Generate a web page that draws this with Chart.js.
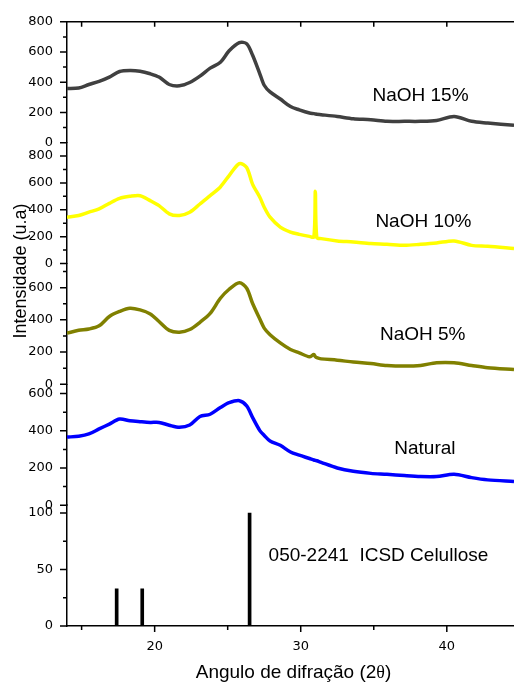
<!DOCTYPE html>
<html>
<head>
<meta charset="utf-8">
<script src="https://cdn.jsdelivr.net/npm/chart.js@4.4.1/dist/chart.umd.min.js"></script>
<style>
  html, body { margin: 0; padding: 0; background: #fff; }
  canvas { display: block; }
</style>
</head>
<body>
<canvas id="xrd" width="514" height="687"></canvas>
<script>
const angles = [14.0, 14.8, 15.5, 16.2, 16.9, 17.6, 18.3, 19.0, 19.7, 20.3, 21.0, 21.7, 22.4, 23.1, 23.8,
  24.5, 25.1, 25.8, 26.3, 26.7, 27.2, 27.5, 27.9, 28.6, 29.3, 29.9, 30.6, 30.9, 31.0, 31.1, 31.4,
  32.5, 33.6, 34.8, 35.9, 37.1, 38.2, 39.3, 40.5, 41.7, 42.8, 44.6];

const naoh15 = [358, 362, 385, 406, 434, 471, 478, 473, 456, 434, 385, 376, 398, 440, 493,
  532, 608, 662, 655, 580, 456, 380, 336, 289, 239, 217, 196, 192, 190, 188, 185,
  173, 158, 152, 141, 141, 141, 147, 173, 141, 130, 115];

const naoh10 = [345, 357, 382, 406, 448, 485, 500, 505, 468, 431, 370, 358, 382, 443, 505,
  570, 655, 744, 715, 591, 493, 419, 345, 271, 234, 217, 202, 198, 537, 194, 185,
  168, 160, 148, 143, 135, 143, 153, 168, 135, 128, 111];

const naoh5 = [318, 335, 343, 363, 421, 452, 472, 462, 437, 390, 335, 323, 340, 385, 440,
  534, 590, 630, 596, 503, 405, 349, 308, 257, 216, 195, 171, 185, 172, 165, 158,
  150, 138, 129, 117, 113, 117, 134, 134, 117, 103, 92];

const natural = [366, 371, 383, 410, 436, 463, 454, 449, 445, 445, 430, 419, 431, 477, 489,
  525, 551, 562, 534, 472, 401, 375, 345, 322, 286, 269, 251, 243, 241, 239, 230,
  200, 182, 171, 166, 159, 154, 154, 166, 148, 136, 127];

// reference card 050-2241 (ICSD celulose)
const refAngles = [17.4, 19.15, 26.5];
const refIntensity = [33, 33, 100];

const sampleNames = ["NaOH 15%", "NaOH 10%", "NaOH 5%", "Natural"];
const refName = "050-2241  ICSD Celullose";

const FONT = "'Liberation Sans', Arial, sans-serif";
const TICK_FONT = { family: "'DejaVu Sans', sans-serif", size: 13 };

function pts(values) {
  return angles.map((a, i) => ({ x: a, y: values[i] }));
}

// one stacked y axis per pattern, top to bottom
const panels = [
  { id: "y15", max: 800, major: 200, minor: 100 },
  { id: "y10", max: 900, major: 200, minor: 100 },
  { id: "y5", max: 750, major: 200, minor: 100 },
  { id: "yNat", max: 650, major: 200, minor: 100 },
  { id: "yRef", max: 107, major: 50, minor: 25 }
];

function yAxis(p) {
  return {
    type: "linear",
    position: "left",
    stack: "xrd",
    stackWeight: 1,
    min: 0,
    max: p.max,
    grid: { display: false, drawTicks: false },
    border: { display: true, color: "#000", width: 1.5 },
    ticks: {
      stepSize: p.major,
      includeBounds: false,
      autoSkip: false,
      color: "#000",
      font: TICK_FONT,
      padding: 14
    },
    afterFit(scale) { scale.width = 67; }
  };
}

// stacked boxes are laid out from the last added axis downwards
const scales = {
  x: {
    type: "linear",
    min: 14,
    max: 44.6,
    offset: false,
    grid: { display: false, drawTicks: false, offset: false },
    border: { display: true, color: "#000", width: 1.5 },
    ticks: {
      stepSize: 5,
      includeBounds: false,
      autoSkip: false,
      color: "#000",
      font: TICK_FONT,
      padding: 13,
      callback: v => (v % 10 === 0 ? v : "")
    },
    afterFit(scale) { scale.height = 61; }
  }
};
panels.slice().reverse().forEach(p => { scales[p.id] = yAxis(p); });

const lineStyle = {
  type: "line",
  pointRadius: 0,
  borderWidth: 3.5,
  fill: false,
  tension: 0.3,
  xAxisID: "x"
};

const labelSpots = [
  { text: sampleNames[0], axis: "y15", x: 38.2, y: 310, align: "center" },
  { text: sampleNames[1], axis: "y10", x: 38.4, y: 313, align: "center" },
  { text: sampleNames[2], axis: "y5", x: 38.35, y: 308, align: "center" },
  { text: sampleNames[3], axis: "yNat", x: 38.5, y: 302, align: "center" },
  { text: refName, axis: "yRef", x: 27.8, y: 62, align: "left" }
];

const decor = {
  id: "decor",
  afterDraw(chart) {
    const { ctx, chartArea: a, scales: s } = chart;
    ctx.save();
    ctx.strokeStyle = "#000";
    ctx.lineWidth = 1.5;
    ctx.beginPath();
    ctx.moveTo(a.left, a.top);
    ctx.lineTo(a.right, a.top);
    for (let v = 15; v <= 40; v += 5) {
      const px = s.x.getPixelForValue(v);
      ctx.moveTo(px, a.bottom);
      ctx.lineTo(px, a.bottom + (v % 10 === 0 ? 6 : 4));
      ctx.moveTo(px, a.top);
      ctx.lineTo(px, a.top + 5);
    }
    panels.forEach(p => {
      const sc = s[p.id];
      for (let v = 0; v <= p.max; v += p.minor) {
        const py = sc.getPixelForValue(v);
        const len = v % p.major === 0 ? 7 : 4;
        ctx.moveTo(a.left - len, py);
        ctx.lineTo(a.left, py);
      }
    });
    ctx.stroke();

    ctx.fillStyle = "#000";
    ctx.textBaseline = "middle";
    ctx.font = "19px " + FONT;
    labelSpots.forEach(l => {
      ctx.textAlign = l.align;
      ctx.fillText(l.text, s.x.getPixelForValue(l.x), s[l.axis].getPixelForValue(l.y));
    });

    // axis titles
    ctx.save();
    ctx.translate(21, 271);
    ctx.rotate(-Math.PI / 2);
    ctx.textAlign = "center";
    ctx.font = "18px " + FONT;
    ctx.fillText("Intensidade (u.a)", 0, 0);
    ctx.restore();

    const t1 = "Angulo de difração (2";
    const t2 = "θ";
    const t3 = ")";
    ctx.font = "19px " + FONT;
    const w1 = ctx.measureText(t1).width;
    const w3 = ctx.measureText(t3).width;
    ctx.font = "18px 'Liberation Serif', serif";
    const w2 = ctx.measureText(t2).width;
    let tx = 293.5 - (w1 + w2 + w3) / 2;
    const ty = 673;
    ctx.textAlign = "left";
    ctx.font = "19px " + FONT;
    ctx.fillText(t1, tx, ty);
    tx += w1;
    ctx.font = "18px 'Liberation Serif', serif";
    ctx.fillText(t2, tx, ty);
    tx += w2;
    ctx.font = "19px " + FONT;
    ctx.fillText(t3, tx, ty);
    ctx.restore();
  }
};

new Chart(document.getElementById("xrd"), {
  type: "line",
  data: {
    datasets: [
      { ...lineStyle, label: sampleNames[0], data: pts(naoh15), borderColor: "#404040", yAxisID: "y15" },
      { ...lineStyle, label: sampleNames[1], data: pts(naoh10), borderColor: "#ffff00", yAxisID: "y10" },
      { ...lineStyle, label: sampleNames[2], data: pts(naoh5), borderColor: "#808000", yAxisID: "y5" },
      { ...lineStyle, label: sampleNames[3], data: pts(natural), borderColor: "#0000ff", yAxisID: "yNat" },
      {
        type: "bar",
        label: refName,
        data: refAngles.map((a, i) => ({ x: a, y: refIntensity[i] })),
        backgroundColor: "#000",
        barThickness: 3,
        xAxisID: "x",
        yAxisID: "yRef"
      }
    ]
  },
  options: {
    responsive: false,
    animation: false,
    layout: { padding: { top: 16, right: 0, left: 0, bottom: 0 } },
    scales: scales,
    plugins: {
      legend: { display: false },
      tooltip: { enabled: false }
    }
  },
  plugins: [decor]
});
</script>
</body>
</html>
